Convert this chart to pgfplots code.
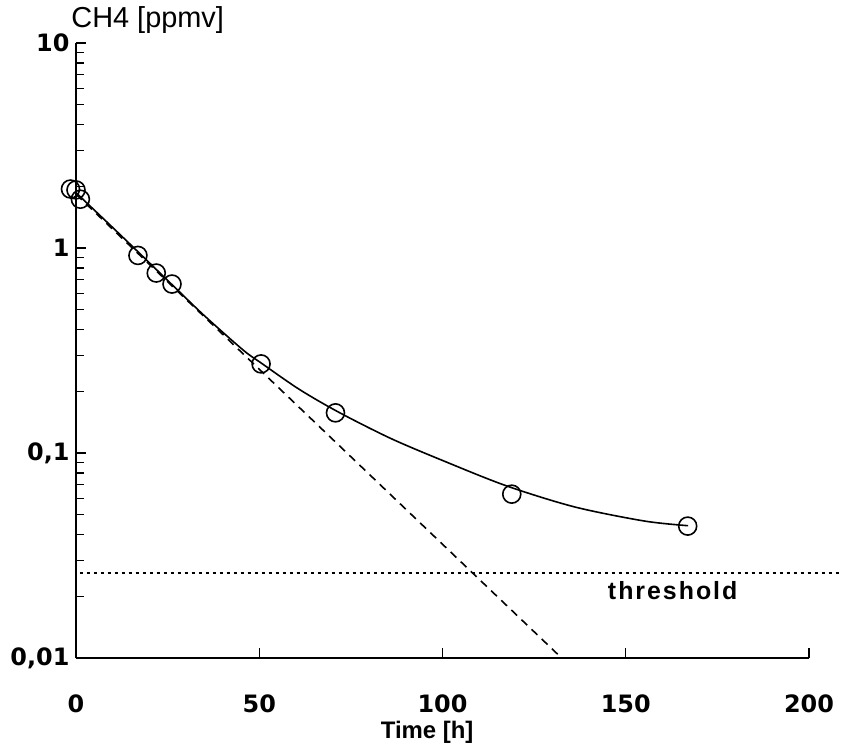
\documentclass[border=0pt]{standalone}
\usepackage{fontspec}
\setmainfont{Liberation Sans}
\newfontfamily\dejavu{DejaVu Sans}
\usepackage{pgfplots}
\pgfplotsset{compat=1.18}
\begin{document}
\begin{tikzpicture}
\begin{axis}[
  scale only axis, width=733bp, height=615bp,
  xmin=0, xmax=200, ymin=0.01, ymax=10,
  ymode=log,
  axis x line=bottom, axis y line=left,
  axis line style={-, line width=1.9bp},
  xtick={0,50,100,150,200},
  xticklabels={0,50,100,150,200},
  ytick={0.01,0.1,1,10},
  yticklabels={{0,01},{0,1},{1},{10}},
  tick align=inside,
  major tick length=10bp, minor tick length=8bp,
  every tick/.style={line width=1.3bp, black},
  minor x tick num=0,
  clip=false,
  tick label style={font=\dejavu\bfseries\fontsize{24}{27}\selectfont},
  xticklabel style={yshift=-33bp},
  yticklabel style={xshift=-3bp},
]
% fitted curve
\addplot[black, line width=1.6bp, smooth, tension=0.5] coordinates {
(0,1.862) (10,1.259) (17,0.955) (26,0.668) (35,0.468) (45.6,0.318)
(50.5,0.275) (61,0.204) (72,0.157) (86,0.1175) (100.5,0.0912)
(117.4,0.0692) (136,0.0546) (155,0.0466) (167,0.0442)};
% initial exponential (dashed)
\addplot[black, line width=1.6bp, dash pattern=on 8bp off 6bp] coordinates {
(0,1.83) (132.5,0.01)};
% threshold
\addplot[black, line width=1.4bp, dash pattern=on 3bp off 4bp] coordinates {
(1,0.026) (209,0.026)};
% measurements
\addplot[only marks, mark=o, mark size=9bp, black, line width=1.6bp] coordinates {
(-1.5,1.94) (0.0,1.92) (1.2,1.73) (16.9,0.92) (21.9,0.755) (26.2,0.667)
(50.5,0.272) (70.8,0.157) (118.9,0.063) (166.9,0.044)};
\node[anchor=base, font=\bfseries\fontsize{25}{28}\selectfont\addfontfeature{LetterSpace=8}]
  at (axis cs:162.8,0.0194) {threshold};
\node[anchor=base west, font=\fontsize{29}{32}\selectfont]
  at (axis description cs:-0.011,1.0244) {CH4 [ppmv]};
\node[anchor=base, font=\bfseries\fontsize{24}{27}\selectfont]
  at (axis description cs:0.479,-0.1305) {Time [h]};
\end{axis}
\pgfresetboundingbox
\path (-76bp,-85bp) rectangle (766bp,658bp);
\end{tikzpicture}
\end{document}
